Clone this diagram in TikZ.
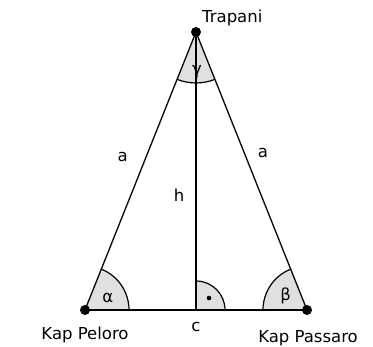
\documentclass[tikz,border=0pt]{standalone}
\usepackage{fontspec}
\setmainfont{DejaVu Sans}
\usetikzlibrary{calc}
\tikzset{
  edge/.style={line width=1.3pt, black},
  arcline/.style={line width=1.2pt, black},
  shade/.style={fill=black!12},
  lbl/.style={inner sep=0pt, font=\fontsize{16.5}{19}\selectfont},
  pt/.style={circle, fill=black, inner sep=0pt, minimum size=10pt}
}
\begin{document}
\begin{tikzpicture}[x=1pt,y=1pt]
\useasboundingbox (0,0) rectangle (373,347);
\coordinate (A) at (85,37);
\coordinate (B) at (307,37);
\coordinate (C) at (196,315);
\coordinate (H) at (196,37);
% sectors
\fill[shade] (A) -- ++(0:44) arc[start angle=0, end angle=68.23, radius=44] -- cycle;
\fill[shade] (B) -- ++(111.77:44) arc[start angle=111.77, end angle=180, radius=44] -- cycle;
\fill[shade] (C) -- ++(248.23:51) arc[start angle=248.23, end angle=291.77, radius=51] -- cycle;
\fill[shade] (H) -- ++(0:29) arc[start angle=0, end angle=90, radius=29] -- cycle;
\draw[arcline] ($(A)+(0:44)$) arc[start angle=0, end angle=68.23, radius=44];
\draw[arcline] ($(B)+(111.77:44)$) arc[start angle=111.77, end angle=180, radius=44];
\draw[arcline] ($(C)+(248.23:51)$) arc[start angle=248.23, end angle=291.77, radius=51];
\draw[arcline] ($(H)+(0:29)$) arc[start angle=0, end angle=90, radius=29];
\fill (209,49) circle[radius=2.3];
% edges
\draw[edge] (A) -- (B);
\draw[edge] (A) -- (C);
\draw[edge] (B) -- (C);
\draw[edge] (C) -- (H);
% points
\node[pt] (pA) at (A) {};
\node[pt] (pB) at (B) {};
\node[pt] (pC) at (C) {};
% labels
\node[lbl, anchor=base west] (tC) at (202,324) {Trapani};
\node[lbl, anchor=base] (tA) at (85,7) {Kap Peloro};
\node[lbl, anchor=base] (tB) at (308,4) {Kap Passaro};
\node[lbl] (la) at (122.7,190) {a};
\node[lbl] (lb) at (263,194) {a};
\node[lbl] (lh) at (179,152) {h};
\node[lbl] (lc) at (196,20) {c};
\node[lbl] (al) at (107.7,49.3) {α};
\node[lbl] (be) at (285.7,51.5) {β};
\node[lbl] (ga) at (197,275) {γ};
\end{tikzpicture}
\end{document}
